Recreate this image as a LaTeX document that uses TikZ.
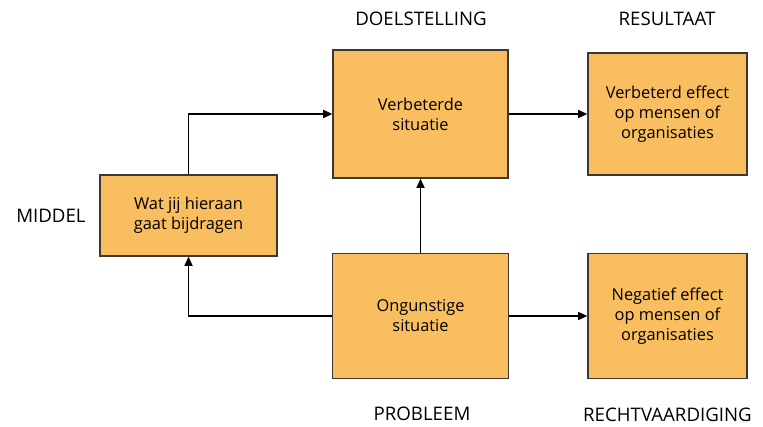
\documentclass[tikz,border=0pt]{standalone}
\usepackage{fontspec}
\setmainfont{Open Sans}
\usepackage{tikz}
\usetikzlibrary{arrows.meta, positioning}
\definecolor{vakoranje}{RGB}{249,190,96}
\definecolor{vakrand}{RGB}{60,55,50}

\begin{document}
\begin{tikzpicture}[
        x=0.75pt, y=-0.75pt,
        font=\fontsize{12.3}{15}\selectfont,
        vak/.style={draw=vakrand,line width=0.9pt,fill=vakoranje,align=center,inner sep=0pt},
        pijl/.style={-{Triangle[length=7pt,width=6pt]},line width=1.3pt},
        kop/.style={font=\fontsize{14}{16}\selectfont}
    ]
        \useasboundingbox (0,0) rectangle (763,426);

        \node[vak,minimum width=132.75pt,minimum height=60.75pt] (middel) at (188.5,215.5) {Wat jij hieraan\\gaat bijdragen};
        \node[vak,minimum width=131.25pt,minimum height=96pt] (doel) at (420.5,114) {Verbeterde\\situatie};
        \node[vak,minimum width=119.25pt,minimum height=91.5pt] (resultaat) at (667.5,114) {Verbeterd effect\\op mensen of\\organisaties};
        \node[vak,minimum width=132pt,minimum height=94pt] (probleem) at (420.5,316) {Ongunstige\\situatie};
        \node[vak,minimum width=119.25pt,minimum height=94pt] (negatief) at (667.5,316) {Negatief effect\\op mensen of\\organisaties};

        \node[kop] (kopdoel) at (421,19) {DOELSTELLING};
        \node[kop] (kopresultaat) at (667,19) {RESULTAAT};
        \node[kop] (kopmiddel) at (51,215.5) {MIDDEL};
        \node[kop] (kopprobleem) at (422,414) {PROBLEEM};
        \node[kop] (kopnegatief) at (667.5,415) {RECHTVAARDIGING};

        \draw[pijl] (middel.north) |- (doel.west);
        \draw[pijl] (probleem.west) -| (middel.south);
        \draw[pijl] (probleem.north) -- (doel.south);
        \draw[pijl] (doel.east) -- (resultaat.west);
        \draw[pijl] (probleem.east) -- (negatief.west);
    \end{tikzpicture}
\end{document}
